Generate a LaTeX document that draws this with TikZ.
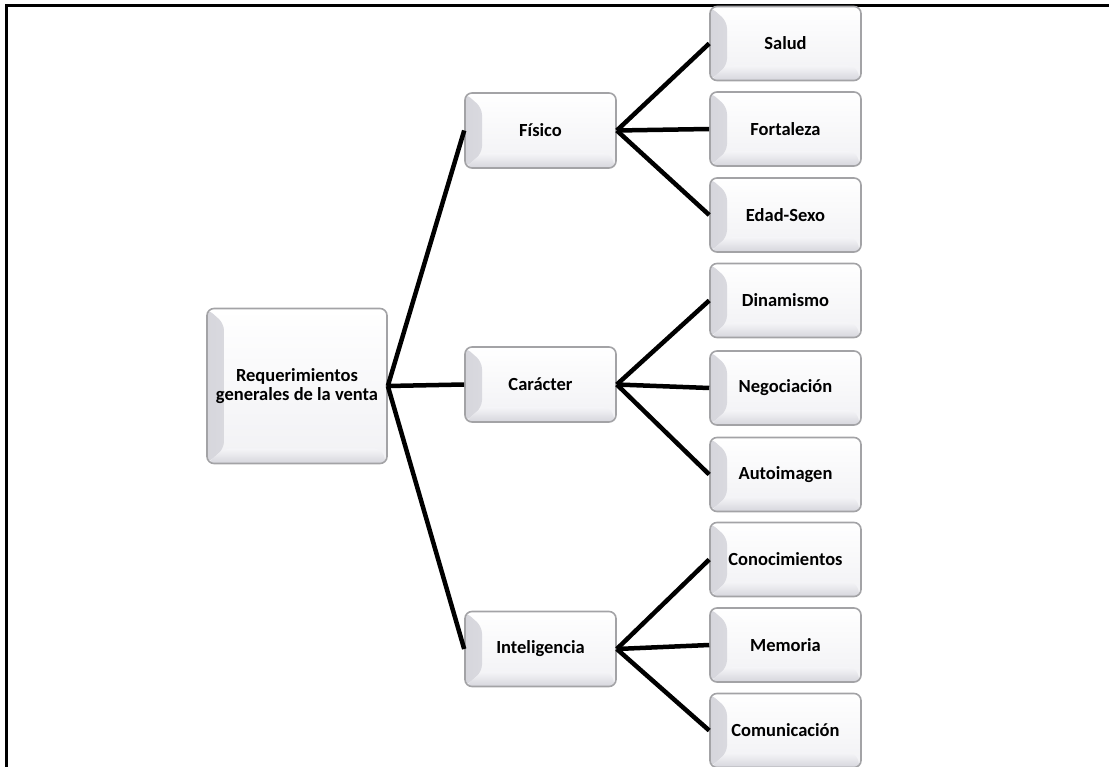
\documentclass[tikz,border=0pt]{standalone}
\usepackage{fontspec}
\setmainfont{Carlito}
\begin{document}
\definecolor{boxrim}{HTML}{A3A3A6}
\definecolor{bevelL}{HTML}{D6D6DC}
\definecolor{bevelR}{HTML}{F5F5F8}
\definecolor{faceB}{HTML}{F1F1F4}
\tikzset{
  bevelbox/.style={
    draw=boxrim, line width=1.6pt, rounded corners=7pt,
    top color=white, bottom color=faceB,
    align=center, inner sep=1pt,
    font=\fontsize{18.5}{19}\selectfont\bfseries,
    path picture={
      % left bevel
      \shade[left color=bevelL, right color=bevelR]
        (path picture bounding box.south west) --
        (path picture bounding box.north west) --
        ([xshift=17pt,yshift=-15pt]path picture bounding box.north west) --
        ([xshift=17pt,yshift=15pt]path picture bounding box.south west) -- cycle;
      % bottom bevel
      \shade[top color=bevelR, bottom color=bevelL]
        (path picture bounding box.south west) --
        ([xshift=17pt,yshift=15pt]path picture bounding box.south west) --
        ([xshift=-6pt,yshift=15pt]path picture bounding box.south east) --
        (path picture bounding box.south east) -- cycle;
    }
  },
  rootbox/.style={bevelbox, minimum width=180pt, minimum height=155pt},
  midbox/.style={bevelbox, minimum width=151pt, minimum height=75pt},
  leafbox/.style={bevelbox, minimum width=151pt, minimum height=74pt},
  link/.style={line width=4.5pt, black},
  frameline/.style={line width=2.5pt, black}
}
\begin{tikzpicture}[x=1pt,y=-1pt]
\useasboundingbox (0,0) rectangle (1109,767);

% frame corner
\coordinate (fa) at (6.5,767);
\coordinate (fb) at (6.5,5.5);
\coordinate (fc) at (1109,5.5);
\draw[frameline] (fa) -- (fb) -- (fc);

% root and first level
\node[rootbox] (root) at (297,386) {Requerimientos\\generales de la venta};
\node[midbox] (fis) at (540.5,130.5) {Físico};
\node[midbox] (car) at (540.5,384.5) {Carácter};
\node[midbox] (int) at (540.5,649) {Inteligencia};

% second level
\node[leafbox] (sal) at (785.5,43.5) {Salud};
\node[leafbox] (for) at (785.5,129) {Fortaleza};
\node[leafbox] (eda) at (785.5,215) {Edad-Sexo};
\node[leafbox] (din) at (785.5,300.5) {Dinamismo};
\node[leafbox] (neg) at (785.5,388) {Negociación};
\node[leafbox] (aut) at (785.5,474.5) {Autoimagen};
\node[leafbox] (con) at (785.5,559.5) {Conocimientos};
\node[leafbox] (mem) at (785.5,645) {Memoria};
\node[leafbox] (com) at (785.5,730.5) {Comunicación};

% connectors
\foreach \t in {fis,car,int} \draw[link] (root.east) -- (\t.west);
\foreach \t in {sal,for,eda} \draw[link] (fis.east) -- (\t.west);
\foreach \t in {din,neg,aut} \draw[link] (car.east) -- (\t.west);
\foreach \t in {con,mem,com} \draw[link] (int.east) -- (\t.west);
\end{tikzpicture}
\end{document}
